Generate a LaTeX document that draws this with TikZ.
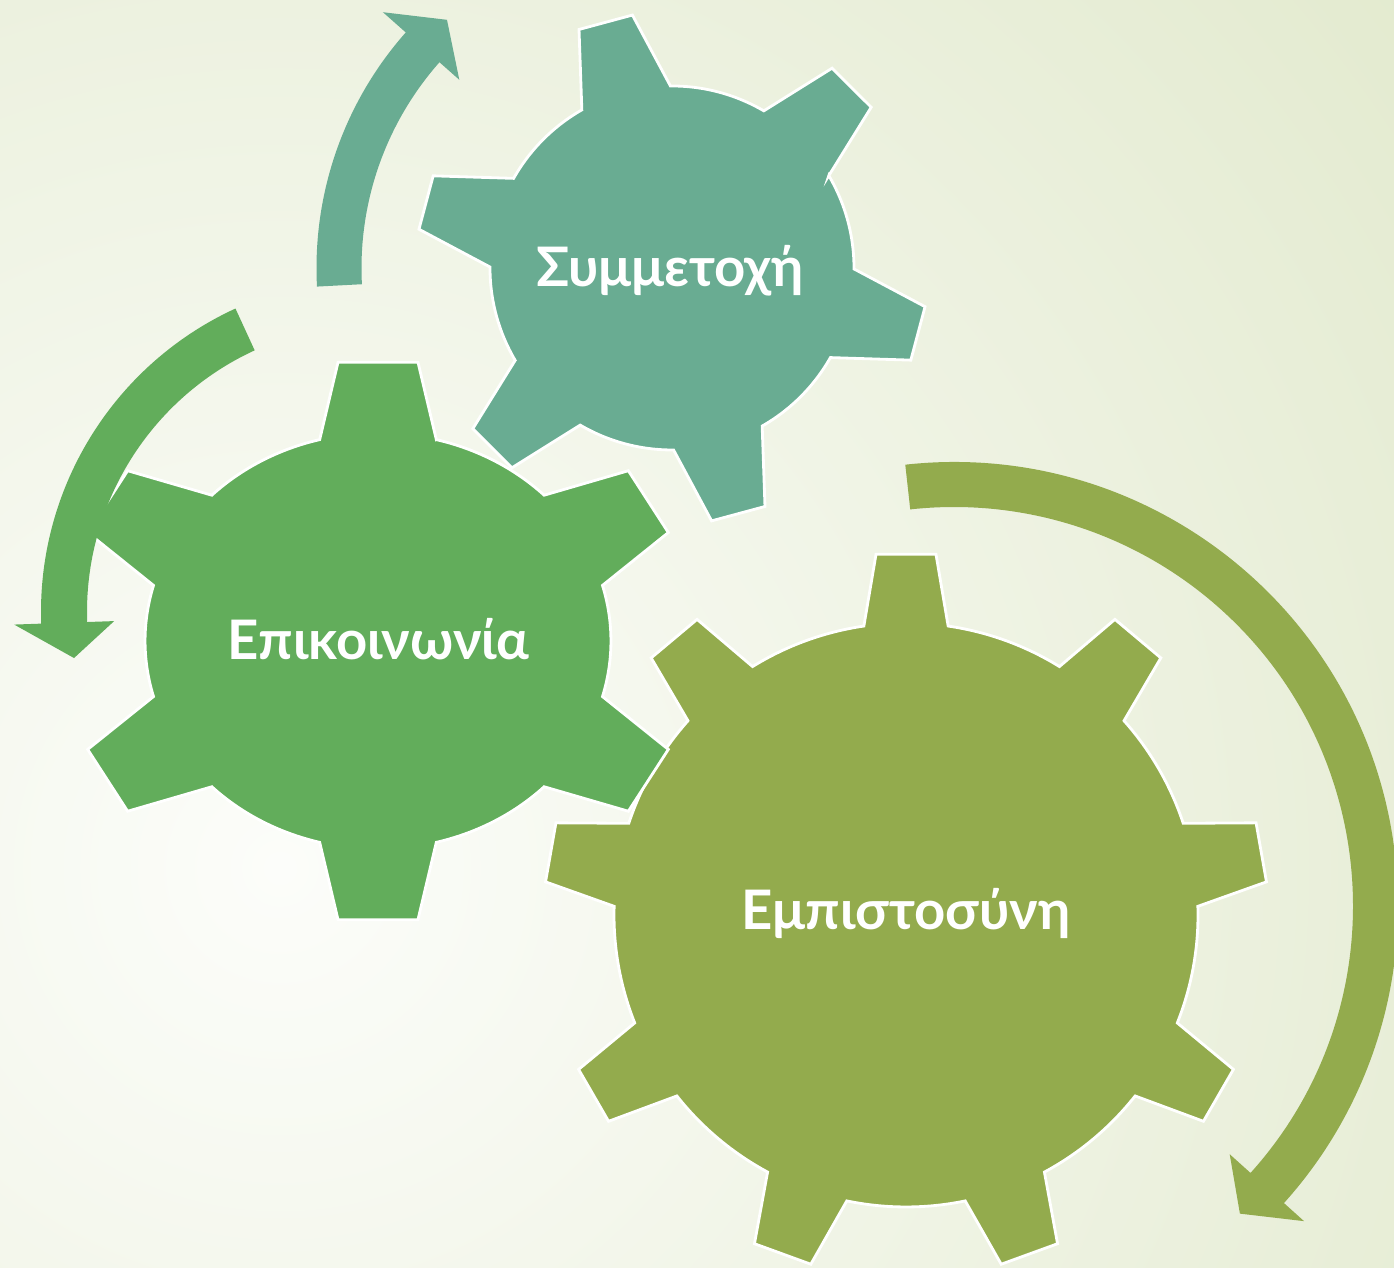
\documentclass[tikz,border=0pt]{standalone}
\usepackage{fontspec}
\usepackage{tikz}
\newfontfamily\cogfont{Lato}
\definecolor{cogteal}{HTML}{69AC92}
\definecolor{coggreen}{HTML}{62AD5B}
\definecolor{cogolive}{HTML}{93AB4D}
\definecolor{bgin}{HTML}{FCFDFA}
\definecolor{bgout}{HTML}{E0E8CA}

\begin{document}
\begin{tikzpicture}

	\tikzset{
		cog/.style={draw=white, line width=0.8pt, line join=miter},
		tealcog/.style={cog, fill=cogteal},
		greencog/.style={cog, fill=coggreen},
		olivecog/.style={cog, fill=cogolive},
		cogtext/.style={text=white, inner sep=0pt, anchor=base, font=\cogfont\bfseries\fontsize{15.5}{18}\selectfont},
	}

	\useasboundingbox (0,0) rectangle (13.94,12.68);
	\begin{scope}
		\clip (0,0) rectangle (13.94,12.68);
		\shade[inner color=bgin, outer color=bgout] (2.8,4.0) circle (16);
	\end{scope}

	\coordinate (c-teal) at (6.72,10.00);
	\coordinate (c-green) at (3.78,6.27);
	\coordinate (c-olive) at (9.06,3.53);
	\coordinate (a-green) at (3.75,6.56);
	\coordinate (a-olive) at (9.54,3.62);

	\begin{scope}[shift={(c-olive)}]
		\filldraw[olivecog] (81.7:2.92) \foreach \a in {90,130,...,410} {
				-- (\a-4.75:3.62) -- (\a+4.75:3.62) -- (\a+8.3:2.92)
				arc[start angle=\a+8.3, end angle=\a+31.7, radius=2.92]
			} -- cycle;
	\end{scope}

	\begin{scope}[shift={(c-green)}, xscale=1.12]
		\filldraw[greencog] (75.5:2.08) \foreach \a in {90,150,...,420} {
				-- (\a-7.3:2.81) -- (\a+7.3:2.81) -- (\a+14.5:2.08)
				arc[start angle=\a+14.5, end angle=\a+45.5, radius=2.08]
			} -- cycle;
	\end{scope}

	\begin{scope}[shift={(c-teal)}]
		\filldraw[tealcog] (30.5:1.82) \foreach \a in {45.1,105.1,...,375} {
				-- (\a-6.2:2.56) -- (\a+6.2:2.56) -- (\a+14.6:1.82)
				arc[start angle=\a+14.6, end angle=\a+45.4, radius=1.82]
			} -- cycle;
	\end{scope}

	\begin{scope}[shift={(c-teal)}]
		\fill[cogteal] (183:3.555) arc[start angle=183, end angle=138.5, radius=3.555]
			-- (138.5:3.86) -- (132.2:3.35) -- (138.5:2.84) -- (138.5:3.105)
			arc[start angle=138.5, end angle=183, radius=3.105] -- cycle;
	\end{scope}

	\begin{scope}[shift={(a-green)}]
		\fill[coggreen] (114.7:3.34) arc[start angle=114.7, end angle=182, radius=3.34]
			-- (182:3.61) -- (188.7:3.045) -- (182:2.61) -- (182:2.88)
			arc[start angle=182, end angle=114.7, radius=2.88] -- cycle;
	\end{scope}

	\begin{scope}[shift={(a-olive)}]
		\fill[cogolive] (96.3:4.44) arc[start angle=96.3, end angle=-42, radius=4.44]
			-- (-42:4.71) -- (-47.1:4.20) -- (-42:3.71) -- (-42:3.99)
			arc[start angle=-42, end angle=96.3, radius=3.99] -- cycle;
	\end{scope}

	\node[cogtext] (t-teal) at (6.70,9.81) {Συμμετοχή};
	\node[cogtext] (t-green) at (3.785,6.08) {Επικοινωνία};
	\node[cogtext] (t-olive) at (9.06,3.38) {Εμπιστοσύνη};

\end{tikzpicture}
\end{document}
